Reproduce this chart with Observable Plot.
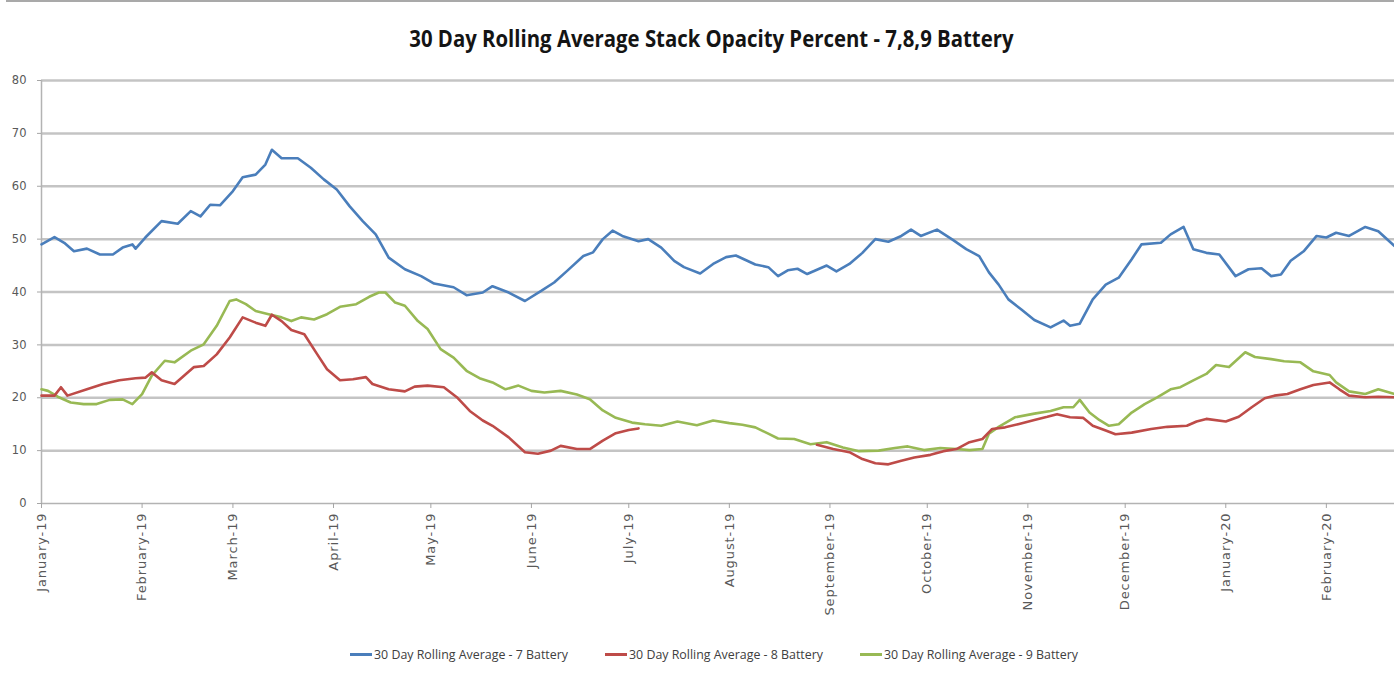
<!DOCTYPE html>
<html>
<head>
<meta charset="utf-8">
<script src="https://cdn.jsdelivr.net/npm/d3@7"></script>
<script src="https://cdn.jsdelivr.net/npm/@observablehq/plot@0.6"></script>
<style>
  html, body { margin: 0; padding: 0; background: #fff; width: 1394px; height: 681px; overflow: hidden; }
  #topbar { position: absolute; left: 6px; top: 0; width: 1388px; height: 2px; background: #a9a9a9; }
  #title { position: absolute; left: 0; top: 22px; width: 1422px; text-align: center; }
  #title span { display: inline-block; transform: scaleX(0.885); transform-origin: center;
           font-family: "Open Sans", sans-serif; font-weight: bold; font-size: 23px; color: #141414; }
  #chart { position: absolute; left: 0; top: 70px; }
  #legend { position: absolute; left: 0; top: 646px; width: 1394px; height: 20px; }
  .item { position: absolute; top: 0; display: flex; align-items: center; font-family: "Open Sans", sans-serif; font-size: 12.4px; color: #404040; }
  .sw { width: 22px; height: 3px; margin-right: 2px; }
  g[aria-label="x-axis tick"] path, g[aria-label="y-axis tick"] path { stroke: #a6a6a6; }
  g[aria-label="x-axis tick label"] text { font-family: "DejaVu Sans", sans-serif; font-size: 13px; letter-spacing: 0.9px; }
  g[aria-label="y-axis tick label"] text { font-family: "DejaVu Sans", sans-serif; font-size: 11.5px; }
</style>
</head>
<body>
<div id="topbar"></div>
<div id="title"><span>30 Day Rolling Average Stack Opacity Percent - 7,8,9 Battery</span></div>
<div id="chart"></div>
<div id="legend"></div>
<script>
// ---- data ----
const seriesNames = ["30 Day Rolling Average - 7 Battery", "30 Day Rolling Average - 8 Battery", "30 Day Rolling Average - 9 Battery"];
const seriesColors = ["#4a7ebb", "#be4b48", "#98b954"];

const dates7 = ["2019-01-01","2019-01-05","2019-01-08","2019-01-11","2019-01-15","2019-01-19","2019-01-23","2019-01-26","2019-01-29","2019-01-30",
"2019-02-02","2019-02-07","2019-02-12","2019-02-16","2019-02-19","2019-02-22","2019-02-25","2019-03-01","2019-03-04","2019-03-08",
"2019-03-11","2019-03-13","2019-03-16","2019-03-21","2019-03-25","2019-03-29","2019-04-02","2019-04-06","2019-04-10","2019-04-14",
"2019-04-18","2019-04-23","2019-04-28","2019-05-02","2019-05-08","2019-05-12","2019-05-17","2019-05-20","2019-05-25","2019-05-30",
"2019-06-04","2019-06-08","2019-06-12","2019-06-17","2019-06-20","2019-06-23","2019-06-26","2019-06-29","2019-07-04","2019-07-07",
"2019-07-11","2019-07-15","2019-07-18","2019-07-23","2019-07-27","2019-07-31","2019-08-03","2019-08-09","2019-08-13","2019-08-16",
"2019-08-19","2019-08-22","2019-08-25","2019-08-31","2019-09-03","2019-09-07","2019-09-11","2019-09-15","2019-09-19","2019-09-23",
"2019-09-26","2019-09-29","2019-10-04","2019-10-09","2019-10-13","2019-10-17","2019-10-20","2019-10-23","2019-10-26","2019-10-30",
"2019-11-03","2019-11-08","2019-11-12","2019-11-14","2019-11-17","2019-11-21","2019-11-25","2019-11-29","2019-12-03","2019-12-06",
"2019-12-12","2019-12-15","2019-12-19","2019-12-22","2019-12-26","2019-12-30","2020-01-04","2020-01-08","2020-01-12","2020-01-15",
"2020-01-18","2020-01-21","2020-01-25","2020-01-29","2020-02-01","2020-02-04","2020-02-08","2020-02-13","2020-02-17","2020-02-22"];
const values7 = [49.0,50.4,49.3,47.7,48.2,47.1,47.1,48.4,49.0,48.2,
50.3,53.4,52.9,55.3,54.3,56.5,56.4,59.1,61.7,62.2,
64.1,66.9,65.3,65.3,63.5,61.3,59.4,56.2,53.4,50.9,
46.5,44.3,43.0,41.6,40.9,39.4,39.9,41.1,39.9,38.3,
40.2,41.8,44.0,46.8,47.5,50.0,51.6,50.6,49.6,50.0,
48.4,45.9,44.7,43.5,45.3,46.6,46.9,45.2,44.7,43.0,
44.1,44.4,43.4,45.0,43.9,45.3,47.4,50.0,49.5,50.6,
51.8,50.6,51.8,49.8,48.1,46.8,43.7,41.4,38.6,36.7,
34.7,33.3,34.6,33.6,34.0,38.6,41.4,42.7,46.2,49.0,
49.3,50.9,52.3,48.1,47.4,47.1,43.0,44.3,44.5,43.0,
43.3,45.9,47.7,50.6,50.3,51.2,50.6,52.3,51.5,48.7];

const dates8 = ["2019-01-01","2019-01-05","2019-01-07","2019-01-09","2019-01-15","2019-01-20","2019-01-25","2019-01-30","2019-02-02","2019-02-04",
"2019-02-07","2019-02-11","2019-02-14","2019-02-17","2019-02-20","2019-02-24","2019-02-28","2019-03-04","2019-03-08","2019-03-11",
"2019-03-13","2019-03-16","2019-03-19","2019-03-23","2019-03-27","2019-03-30","2019-04-03","2019-04-07","2019-04-11","2019-04-13",
"2019-04-18","2019-04-23","2019-04-26","2019-04-30","2019-05-05","2019-05-09","2019-05-13","2019-05-17","2019-05-20","2019-05-25",
"2019-05-30","2019-06-03","2019-06-07","2019-06-10","2019-06-15","2019-06-19","2019-06-23","2019-06-27","2019-07-01","2019-07-04",
"2019-08-01",
"2019-08-28","2019-09-02","2019-09-07","2019-09-11","2019-09-15","2019-09-19","2019-09-23","2019-09-27","2019-10-02","2019-10-06",
"2019-10-10","2019-10-14","2019-10-18","2019-10-21","2019-10-25","2019-10-29","2019-11-03","2019-11-07","2019-11-10","2019-11-14",
"2019-11-18","2019-11-21","2019-11-25","2019-11-28","2019-12-03","2019-12-09","2019-12-14","2019-12-20","2019-12-23","2019-12-26",
"2020-01-01","2020-01-05","2020-01-09","2020-01-13","2020-01-16","2020-01-20","2020-01-24","2020-01-28","2020-02-02","2020-02-05",
"2020-02-08","2020-02-13","2020-02-17","2020-02-22"];
const values8 = [20.4,20.4,22.0,20.4,21.6,22.6,23.3,23.7,23.8,24.8,
23.3,22.6,24.2,25.8,26.0,28.2,31.4,35.2,34.2,33.6,
35.7,34.5,32.8,32.0,28.2,25.4,23.3,23.5,23.9,22.6,
21.6,21.2,22.1,22.3,22.0,20.1,17.5,15.7,14.7,12.5,
9.7,9.4,10.0,10.9,10.3,10.3,11.9,13.3,13.9,14.2,
null,
11.1,10.3,9.7,8.4,7.6,7.4,8.1,8.7,9.2,9.9,
10.3,11.6,12.2,14.1,14.4,15.0,15.8,16.4,16.9,16.3,
16.2,14.7,13.8,13.1,13.4,14.1,14.5,14.7,15.5,16.0,
15.5,16.4,18.2,19.9,20.4,20.7,21.6,22.4,22.9,21.6,
20.4,20.1,20.2,20.1];

const dates9 = ["2019-01-01","2019-01-03","2019-01-06","2019-01-10","2019-01-14","2019-01-18","2019-01-22","2019-01-26","2019-01-29","2019-02-01",
"2019-02-04","2019-02-08","2019-02-11","2019-02-16","2019-02-20","2019-02-24","2019-02-28","2019-03-02","2019-03-05","2019-03-08",
"2019-03-12","2019-03-16","2019-03-19","2019-03-22","2019-03-26","2019-03-30","2019-04-03","2019-04-08","2019-04-12","2019-04-15",
"2019-04-17","2019-04-20","2019-04-23","2019-04-27","2019-04-30","2019-05-04","2019-05-08","2019-05-12","2019-05-16","2019-05-20",
"2019-05-24","2019-05-28","2019-06-01","2019-06-05","2019-06-10","2019-06-15","2019-06-19","2019-06-23","2019-06-27","2019-07-02",
"2019-07-06","2019-07-11","2019-07-16","2019-07-22","2019-07-27","2019-08-01","2019-08-05","2019-08-09","2019-08-13","2019-08-16",
"2019-08-21","2019-08-26","2019-08-31","2019-09-05","2019-09-10","2019-09-16","2019-09-21","2019-09-25","2019-09-30","2019-10-05",
"2019-10-10","2019-10-14","2019-10-18","2019-10-20","2019-10-23","2019-10-28","2019-11-03","2019-11-08","2019-11-12","2019-11-15",
"2019-11-17","2019-11-20","2019-11-23","2019-11-26","2019-11-29","2019-12-03","2019-12-07","2019-12-11","2019-12-15","2019-12-18",
"2019-12-22","2019-12-26","2019-12-29","2020-01-02","2020-01-07","2020-01-10","2020-01-15","2020-01-19","2020-01-24","2020-01-28",
"2020-02-02","2020-02-04","2020-02-08","2020-02-13","2020-02-17","2020-02-22"];
const values9 = [21.6,21.3,20.2,19.1,18.8,18.8,19.6,19.7,18.8,20.7,
24.2,27.0,26.7,28.9,30.1,33.6,38.3,38.6,37.7,36.4,
35.8,35.2,34.5,35.2,34.8,35.8,37.2,37.7,39.1,39.9,
39.9,38.0,37.4,34.5,33.0,29.2,27.6,25.1,23.7,22.9,
21.6,22.3,21.3,21.0,21.3,20.6,19.7,17.6,16.2,15.3,
15.0,14.7,15.5,14.8,15.7,15.2,14.9,14.4,13.2,12.3,
12.2,11.2,11.6,10.6,9.9,10.0,10.5,10.8,10.1,10.5,
10.3,10.1,10.3,13.2,14.5,16.3,17.0,17.5,18.2,18.2,
19.6,17.2,15.8,14.7,15.0,17.2,18.8,20.1,21.6,22.0,
23.3,24.5,26.2,25.8,28.6,27.7,27.3,26.9,26.7,25.0,
24.3,22.9,21.2,20.7,21.6,20.7];

const monthTicks = ["2019-01-01","2019-02-01","2019-03-01","2019-04-01","2019-05-01","2019-06-01","2019-07-01",
"2019-08-01","2019-09-01","2019-10-01","2019-11-01","2019-12-01","2020-01-01","2020-02-01"];
const monthLabels = ["January-19","February-19","March-19","April-19","May-19","June-19","July-19",
"August-19","September-19","October-19","November-19","December-19","January-20","February-20"];
const yTicks = [0,10,20,30,40,50,60,70,80];
const xDomain = ["2019-01-01","2020-02-22"];

// ---- build table ----
const parse = d3.utcParse("%Y-%m-%d");
const toRows = (dates, values, name) => dates.map((d, i) => ({date: parse(d), value: values[i], series: name}));
const rows7 = toRows(dates7, values7, seriesNames[0]);
const rows8 = toRows(dates8, values8, seriesNames[1]);
const rows9 = toRows(dates9, values9, seriesNames[2]);
const tickDates = monthTicks.map(parse);
const labelFor = d => monthLabels[tickDates.findIndex(t => +t === +d)];

const chart = Plot.plot({
  width: 1394,
  height: 570,
  marginTop: 10,
  marginBottom: 137,
  marginLeft: 41,
  marginRight: 0,
  style: {fontFamily: "'DejaVu Sans', sans-serif", fontSize: "11px", color: "#595959", background: "transparent", overflow: "visible"},
  x: {type: "utc", domain: xDomain.map(parse), label: null},
  y: {domain: [0, 80], label: null},
  marks: [
    Plot.ruleY(yTicks.filter(v => v > 0), {stroke: "#c4c4c4", strokeWidth: 2.5}),
    Plot.ruleY([0], {stroke: "#b3b3b3", strokeWidth: 1.5}),
    Plot.ruleX([parse(xDomain[0])], {stroke: "#b3b3b3", strokeWidth: 1.5}),
    Plot.axisY({ticks: yTicks, tickSize: 4, tickPadding: 11, fill: "#595959", stroke: "#a6a6a6"}),
    Plot.axisX({ticks: tickDates, tickFormat: labelFor, tickRotate: -90, tickSize: 5, tickPadding: 4, fill: "#595959", stroke: "#a6a6a6"}),
    Plot.line(rows9, {x: "date", y: "value", stroke: seriesColors[2], strokeWidth: 2.6}),
    Plot.line(rows8, {x: "date", y: "value", stroke: seriesColors[1], strokeWidth: 2.6}),
    Plot.line(rows7, {x: "date", y: "value", stroke: seriesColors[0], strokeWidth: 2.6})
  ]
});
document.getElementById("chart").appendChild(chart);

// ---- legend ----
const legendX = [350, 605, 860];
const legend = document.getElementById("legend");
seriesNames.forEach((name, i) => {
  const item = document.createElement("div");
  item.className = "item";
  item.style.left = legendX[i] + "px";
  const sw = document.createElement("span");
  sw.className = "sw";
  sw.style.background = seriesColors[i];
  const tx = document.createElement("span");
  tx.textContent = name;
  item.appendChild(sw);
  item.appendChild(tx);
  legend.appendChild(item);
});
</script>
</body>
</html>
